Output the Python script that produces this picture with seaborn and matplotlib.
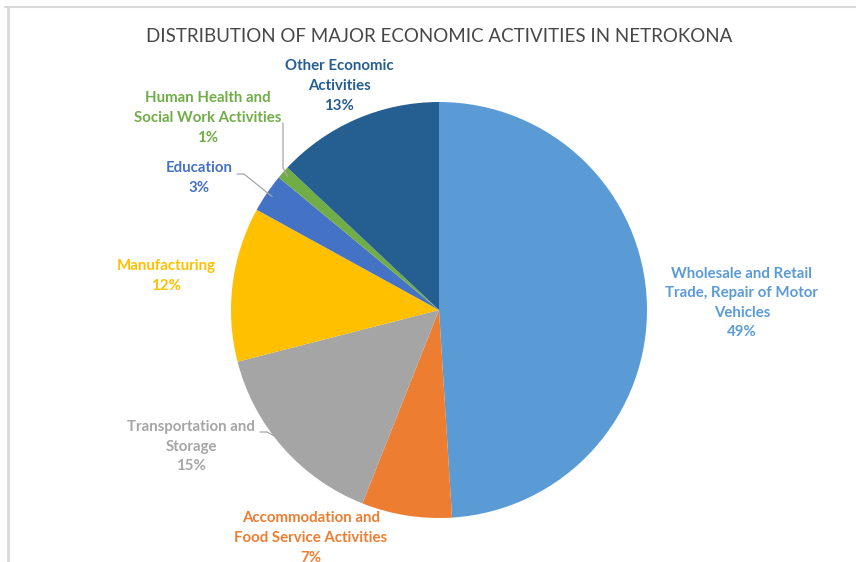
import numpy as np
import matplotlib
matplotlib.use("Agg")
import matplotlib.pyplot as plt
import seaborn as sns

# Economic activity shares (%)
categories = [
    "Wholesale and Retail\nTrade, Repair of Motor\nVehicles",
    "Accommodation and\nFood Service Activities",
    "Transportation and\nStorage",
    "Manufacturing",
    "Education",
    "Human Health and\nSocial Work Activities",
    "Other Economic\nActivities",
]
shares = [49, 7, 15, 12, 3, 1, 13]
colors = ["#5B9BD5", "#ED7D31", "#A5A5A5", "#FFC000", "#4472C4", "#70AD47", "#255E91"]

sns.set_theme(style="white")
plt.rcParams["font.family"] = ["Lato", "DejaVu Sans"]

W, H = 856, 562
fig = plt.figure(figsize=(W / 100, H / 100), dpi=100)
ax = fig.add_axes([0, 0, 1, 1])

cx, cy, r = 439, H - 310, 208
palette = sns.color_palette(colors)
wedges, _ = ax.pie(shares, colors=palette, startangle=90, counterclock=False,
                   center=(cx, cy), radius=r, frame=True,
                   wedgeprops=dict(linewidth=0))
ax.set_xlim(0, W)
ax.set_ylim(0, H)
ax.set_aspect("equal")
ax.axis("off")

# label centre positions (pixel coords from top-left) and leader lines
label_pos = [(742, 303), (311, 538), (191, 447), (166, 276), (199, 178), (208, 118), (339, 86)]
leaders = {
    4: [(237, 174), (244, 174)],
    5: [(283, 123), (283, 168)],
    2: [(260, 432), (267, 432)],
}

for i, (name, val) in enumerate(zip(categories, shares)):
    x, y = label_pos[i]
    ax.text(x, H - y, f"{name}\n{val}%", ha="center", va="center",
            fontsize=10.8, fontweight="bold", color=colors[i],
            linespacing=1.5)
    if i in leaders:
        w = wedges[i]
        mid = np.deg2rad((w.theta1 + w.theta2) / 2)
        ex, ey = cx + r * 0.97 * np.cos(mid), cy + r * 0.97 * np.sin(mid)
        pts = leaders[i]
        xs = [p[0] for p in pts] + [ex]
        ys = [H - p[1] for p in pts] + [ey]
        ax.plot(xs, ys, color="#A6A6A6", lw=0.9)

ax.text(439, H - 36, "DISTRIBUTION OF MAJOR ECONOMIC ACTIVITIES IN NETROKONA",
        ha="center", va="center", fontsize=13.5, color="#474747")

# chart area border
ax.plot([5, W], [H - 7, H - 7], color="#D9D9D9", lw=1.5)
ax.plot([8, 8], [H - 7, 0], color="#D9D9D9", lw=2)

fig.savefig("out.png", dpi=100)
